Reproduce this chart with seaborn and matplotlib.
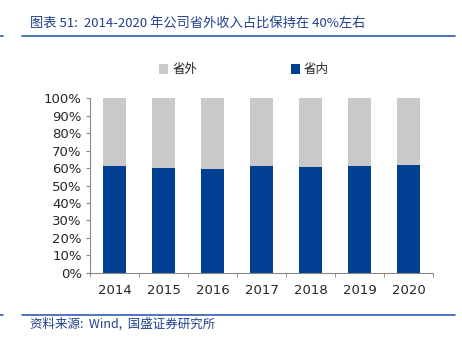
import matplotlib
matplotlib.use("Agg")
import matplotlib.pyplot as plt
import seaborn as sns
import pandas as pd
from matplotlib.patches import Patch
from matplotlib.lines import Line2D

years = ["2014", "2015", "2016", "2017", "2018", "2019", "2020"]
inside = [61.4, 60.0, 59.6, 61.4, 60.8, 61.0, 61.8]   # 省内 (%)
outside = [100 - v for v in inside]                   # 省外 (%)
total = [a + b for a, b in zip(inside, outside)]

sns.set_style("white")
plt.rcParams['font.family'] = ['DejaVu Sans', 'Noto Sans CJK SC']

BLUE = "#003f91"
GRAY = "#c9c9c9"

df = pd.DataFrame({"year": years, "inside": inside, "total": total})

fig = plt.figure(figsize=(4.62, 3.41), dpi=100)
ax = fig.add_axes([0.195, 0.2, 0.742, 0.512])

sns.barplot(data=df, x="year", y="total", color=GRAY, width=0.46, ax=ax,
            saturation=1, edgecolor="none")
sns.barplot(data=df, x="year", y="inside", color=BLUE, width=0.46, ax=ax,
            saturation=1, edgecolor="none")

ax.set_ylim(0, 100)
ax.set_xlim(-0.5, 6.5)
ax.set_yticks(range(0, 101, 10))
ax.set_yticklabels([f"{v}%" for v in range(0, 101, 10)], fontsize=9.5)
ax.set_xlabel("")
ax.set_ylabel("")
ax.tick_params(axis="x", labelsize=9.5, length=0, pad=8)
ax.tick_params(axis="y", length=3, color="#888888", direction="out", pad=3, left=True)
for s in ["top", "right"]:
    ax.spines[s].set_visible(False)
for s in ["left", "bottom"]:
    ax.spines[s].set_color("#888888")
    ax.spines[s].set_linewidth(0.8)
ax.set_xticks([i - 0.5 for i in range(8)], minor=True)
ax.tick_params(axis="x", which="minor", length=3, color="#888888", direction="out", bottom=True)

handles = [Patch(facecolor=GRAY, edgecolor="none"), Patch(facecolor=BLUE, edgecolor="none")]
fig.legend(handles, ["省外", "省内"], loc="center", bbox_to_anchor=(0.528, 0.795), ncol=2,
           frameon=False, columnspacing=7.5, handlelength=0.75, handleheight=0.75,
           handletextpad=0.3, prop={"family": ["Noto Sans CJK SC"], "size": 9})

TITLE_C = "#1f3f8f"
fig.text(0.065, 0.932, "图表 51:  2014-2020 年公司省外收入占比保持在 40%左右",
         fontsize=9.5, color=TITLE_C, style="italic", va="center",
         family=["Noto Sans CJK SC", "DejaVu Sans"])
fig.add_artist(Line2D([0.047, 0.985], [0.893, 0.893], color="#2f5fad", lw=1.2))
fig.add_artist(Line2D([0.0, 0.006], [0.893, 0.893], color="#2f5fad", lw=1.2))

fig.text(0.065, 0.05, "资料来源:  Wind,  国盛证券研究所", fontsize=9, color=TITLE_C,
         style="italic", va="center", family=["Noto Sans CJK SC", "DejaVu Sans"])
fig.add_artist(Line2D([0.047, 0.985], [0.076, 0.076], color="#2f5fad", lw=1.2))
fig.add_artist(Line2D([0.0, 0.006], [0.076, 0.076], color="#2f5fad", lw=1.2))

fig.savefig("out.png", dpi=100)
